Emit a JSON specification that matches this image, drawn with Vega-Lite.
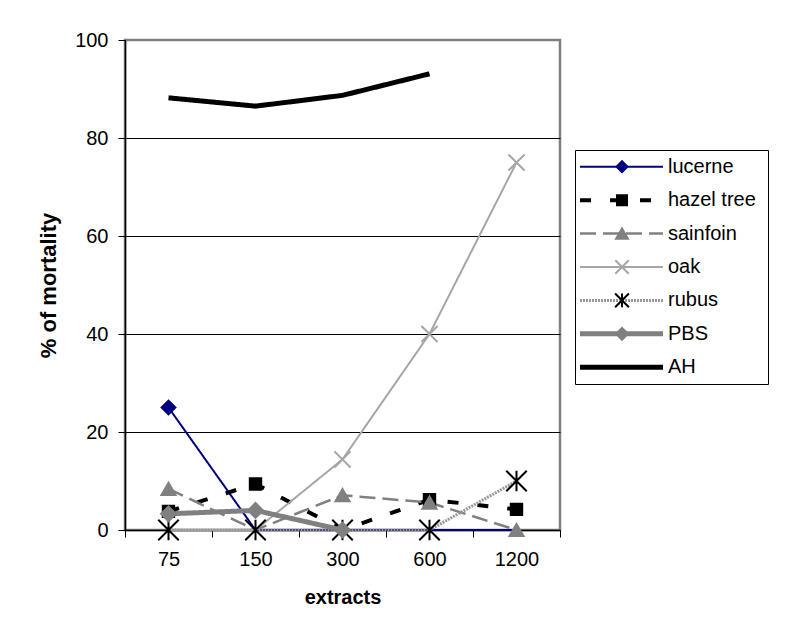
{
  "$schema": "https://vega.github.io/schema/vega-lite/v6.json",
  "background": "white",
  "padding": {"left": 36, "top": 28, "right": 5, "bottom": 5},
  "config": {
    "font": "Liberation Sans",
    "view": {"stroke": null},
    "axis": {"labelFont": "Liberation Sans", "titleFont": "Liberation Sans"}
  },
  "datasets": {
    "mortality": [
      {"series": "lucerne", "extract": 75, "value": 25},
      {"series": "lucerne", "extract": 150, "value": 0},
      {"series": "lucerne", "extract": 300, "value": 0},
      {"series": "lucerne", "extract": 600, "value": 0},
      {"series": "lucerne", "extract": 1200, "value": 0},
      {"series": "hazel tree", "extract": 75, "value": 3.8},
      {"series": "hazel tree", "extract": 150, "value": 9.4},
      {"series": "hazel tree", "extract": 300, "value": 0},
      {"series": "hazel tree", "extract": 600, "value": 6.2},
      {"series": "hazel tree", "extract": 1200, "value": 4.2},
      {"series": "sainfoin", "extract": 75, "value": 8.4},
      {"series": "sainfoin", "extract": 150, "value": 0},
      {"series": "sainfoin", "extract": 300, "value": 7.1},
      {"series": "sainfoin", "extract": 600, "value": 5.6},
      {"series": "sainfoin", "extract": 1200, "value": 0},
      {"series": "oak", "extract": 75, "value": 0},
      {"series": "oak", "extract": 150, "value": 0},
      {"series": "oak", "extract": 300, "value": 14.4},
      {"series": "oak", "extract": 600, "value": 40},
      {"series": "oak", "extract": 1200, "value": 75},
      {"series": "rubus", "extract": 75, "value": 0},
      {"series": "rubus", "extract": 150, "value": 0},
      {"series": "rubus", "extract": 300, "value": 0},
      {"series": "rubus", "extract": 600, "value": 0},
      {"series": "rubus", "extract": 1200, "value": 10},
      {"series": "PBS", "extract": 75, "value": 3.3},
      {"series": "PBS", "extract": 150, "value": 4},
      {"series": "PBS", "extract": 300, "value": 0},
      {"series": "AH", "extract": 75, "value": 88.2},
      {"series": "AH", "extract": 150, "value": 86.5},
      {"series": "AH", "extract": 300, "value": 88.7},
      {"series": "AH", "extract": 600, "value": 93.1}
    ],
    "legend": [
      {"series": "lucerne"},
      {"series": "hazel tree"},
      {"series": "sainfoin"},
      {"series": "oak"},
      {"series": "rubus"},
      {"series": "PBS"},
      {"series": "AH"}
    ]
  },
  "hconcat": [
    {
      "width": 435,
      "height": 490,
      "view": {"stroke": "#808080", "strokeWidth": 2.5},
      "data": {"name": "mortality"},
      "encoding": {
        "x": {
          "field": "extract", "type": "ordinal", "sort": [75, 150, 300, 600, 1200],
          "scale": {"type": "band", "paddingInner": 0, "paddingOuter": 0},
          "axis": {
            "title": "extracts", "labelAngle": 0, "tickBand": "extent", "tickSize": 7,
            "labelPadding": 12, "labelFontSize": 20, "titleFontSize": 20, "titleFontWeight": "bold",
            "titlePadding": 18, "domainColor": "black", "domainWidth": 1.5, "tickColor": "black",
            "labelColor": "black", "titleColor": "black", "grid": false
          }
        },
        "y": {
          "field": "value", "type": "quantitative",
          "scale": {"domain": [0, 100], "nice": false},
          "axis": {
            "title": "% of mortality", "values": [0, 20, 40, 60, 80, 100], "tickSize": 7,
            "labelPadding": 10, "labelFontSize": 20, "titleFontSize": 22, "titleFontWeight": "bold",
            "titlePadding": 14, "grid": true,
            "gridColor": {"condition": {"test": "datum.value === 100", "value": "#808080"}, "value": "black"},
            "gridWidth": 1, "domainColor": "black", "domainWidth": 1.5, "tickColor": "black",
            "labelColor": "black", "titleColor": "black"
          }
        }
      },
      "layer": [
        {
          "mark": {"type": "line", "strokeCap": "butt", "strokeJoin": "miter"},
          "encoding": {
            "color": {
              "field": "series", "type": "nominal", "legend": null,
              "scale": {"domain": ["lucerne", "hazel tree", "sainfoin", "oak", "rubus", "PBS", "AH"],
                        "range": ["#000080", "#000000", "#808080", "#a6a6a6", "#999999", "#808080", "#000000"]}
            },
            "strokeDash": {
              "field": "series", "type": "nominal", "legend": null,
              "scale": {"type": "ordinal", "domain": ["lucerne", "hazel tree", "sainfoin", "oak", "rubus", "PBS", "AH"],
                        "range": [[1, 0], [11, 19], [16, 7], [1, 0], [2, 1], [1, 0], [1, 0]]}
            },
            "strokeWidth": {
              "field": "series", "type": "nominal", "legend": null,
              "scale": {"type": "ordinal", "domain": ["lucerne", "hazel tree", "sainfoin", "oak", "rubus", "PBS", "AH"],
                        "range": [2, 4, 2.5, 2, 3, 5, 5]}
            }
          }
        },
        {
          "transform": [
            {"filter": "datum.series !== 'AH' && (datum.value > 0 || datum.series === 'rubus' || datum.series === 'PBS' || (datum.series === 'sainfoin' && datum.extract === 1200))"}
          ],
          "mark": {"type": "point", "opacity": 1, "strokeWidth": 2},
          "encoding": {
            "shape": {
              "field": "series", "type": "nominal", "legend": null,
              "scale": {"domain": ["lucerne", "hazel tree", "sainfoin", "oak", "rubus", "PBS", "AH"],
                        "range": ["diamond", "square", "triangle-up", "M-1,-1L1,1M-1,1L1,-1", "M-1,-1L1,1M-1,1L1,-1M0,-1L0,1", "diamond", "circle"]}
            },
            "size": {
              "field": "series", "type": "nominal", "legend": null,
              "scale": {"type": "ordinal", "domain": ["lucerne", "hazel tree", "sainfoin", "oak", "rubus", "PBS", "AH"],
                        "range": [190, 130, 200, 260, 420, 220, 0]}
            },
            "fill": {
              "field": "series", "type": "nominal", "legend": null,
              "scale": {"domain": ["lucerne", "hazel tree", "sainfoin", "oak", "rubus", "PBS", "AH"],
                        "range": ["#000080", "#000000", "#808080", "#a6a6a6", "#000000", "#808080", "#000000"]}
            },
            "stroke": {
              "field": "series", "type": "nominal", "legend": null,
              "scale": {"domain": ["lucerne", "hazel tree", "sainfoin", "oak", "rubus", "PBS", "AH"],
                        "range": ["#000080", "#000000", "#808080", "#a6a6a6", "#000000", "#808080", "#000000"]}
            }
          }
        }
      ]
    },
    {
      "spacing": 20,
      "bounds": "flush",
      "vconcat": [
        {
          "width": 193,
          "height": 90,
          "data": {"values": []},
          "mark": "point"
        },
        {
          "width": 193,
          "height": 234,
          "view": {"stroke": "black", "strokeWidth": 1},
          "data": {"name": "legend"},
          "encoding": {
            "y": {
              "field": "series", "type": "nominal", "axis": null,
              "sort": ["lucerne", "hazel tree", "sainfoin", "oak", "rubus", "PBS", "AH"],
              "scale": {"type": "band", "domain": ["lucerne", "hazel tree", "sainfoin", "oak", "rubus", "PBS", "AH"], "paddingInner": 0, "paddingOuter": 0}
            }
          },
          "layer": [
            {
              "mark": {"type": "rule", "strokeCap": "butt"},
              "encoding": {
                "x": {"datum": 5, "type": "quantitative", "scale": {"domain": [0, 193], "nice": false}, "axis": null},
                "x2": {"datum": 88},
                "color": {
                  "field": "series", "type": "nominal", "legend": null,
                  "scale": {"domain": ["lucerne", "hazel tree", "sainfoin", "oak", "rubus", "PBS", "AH"],
                            "range": ["#000080", "#000000", "#808080", "#a6a6a6", "#999999", "#808080", "#000000"]}
                },
                "strokeDash": {
                  "field": "series", "type": "nominal", "legend": null,
                  "scale": {"type": "ordinal", "domain": ["lucerne", "hazel tree", "sainfoin", "oak", "rubus", "PBS", "AH"],
                            "range": [[1, 0], [11, 19], [16, 7], [1, 0], [2, 1], [1, 0], [1, 0]]}
                },
                "strokeWidth": {
                  "field": "series", "type": "nominal", "legend": null,
                  "scale": {"type": "ordinal", "domain": ["lucerne", "hazel tree", "sainfoin", "oak", "rubus", "PBS", "AH"],
                            "range": [2, 4, 2.5, 2, 3, 5, 5]}
                }
              }
            },
            {
              "transform": [{"filter": "datum.series !== 'AH'"}],
              "mark": {"type": "point", "opacity": 1, "strokeWidth": 2},
              "encoding": {
                "x": {"datum": 47, "type": "quantitative"},
                "shape": {
                  "field": "series", "type": "nominal", "legend": null,
                  "scale": {"domain": ["lucerne", "hazel tree", "sainfoin", "oak", "rubus", "PBS", "AH"],
                            "range": ["diamond", "square", "triangle-up", "M-1,-1L1,1M-1,1L1,-1", "M-1,-1L1,1M-1,1L1,-1M0,-1L0,1", "diamond", "circle"]}
                },
                "size": {
                  "field": "series", "type": "nominal", "legend": null,
                  "scale": {"type": "ordinal", "domain": ["lucerne", "hazel tree", "sainfoin", "oak", "rubus", "PBS", "AH"],
                            "range": [120, 100, 140, 180, 190, 140, 0]}
                },
                "fill": {
                  "field": "series", "type": "nominal", "legend": null,
                  "scale": {"domain": ["lucerne", "hazel tree", "sainfoin", "oak", "rubus", "PBS", "AH"],
                            "range": ["#000080", "#000000", "#808080", "#a6a6a6", "#000000", "#808080", "#000000"]}
                },
                "stroke": {
                  "field": "series", "type": "nominal", "legend": null,
                  "scale": {"domain": ["lucerne", "hazel tree", "sainfoin", "oak", "rubus", "PBS", "AH"],
                            "range": ["#000080", "#000000", "#808080", "#a6a6a6", "#000000", "#808080", "#000000"]}
                }
              }
            },
            {
              "mark": {"type": "text", "align": "left", "baseline": "middle", "fontSize": 20, "color": "black"},
              "encoding": {
                "x": {"datum": 93, "type": "quantitative"},
                "text": {"field": "series", "type": "nominal"}
              }
            }
          ]
        }
      ],
      "resolve": {"scale": {"size": "independent"}}
    }
  ],
  "spacing": 15,
  "bounds": "flush",
  "resolve": {"scale": {"x": "independent", "y": "independent", "size": "independent"}}
}
